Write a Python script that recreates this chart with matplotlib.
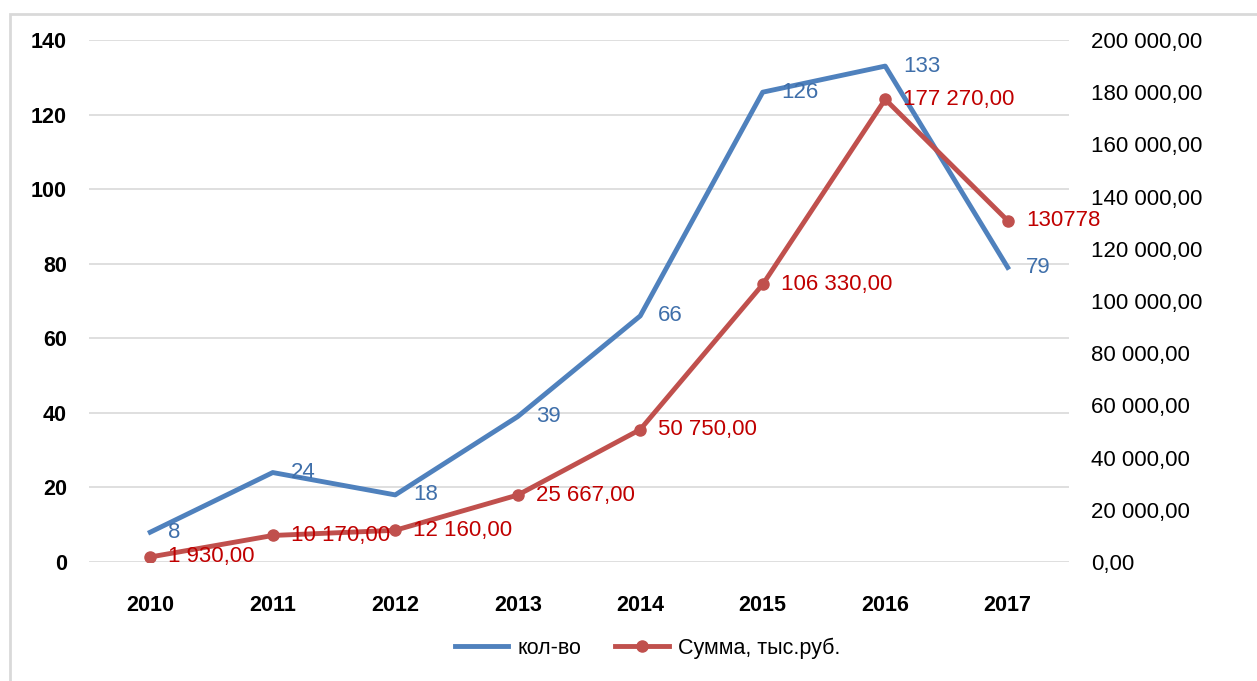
import matplotlib.pyplot as plt
from matplotlib.patches import Rectangle
from matplotlib.ticker import FuncFormatter, MultipleLocator

years = ['2010', '2011', '2012', '2013', '2014', '2015', '2016', '2017']
count = [8, 24, 18, 39, 66, 126, 133, 79]
summa = [1930, 10170, 12160, 25667, 50750, 106330, 177270, 130778]
summa_labels = ['1 930,00', '10 170,00', '12 160,00', '25 667,00', '50 750,00',
                '106 330,00', '177 270,00', '130778']

plt.rcParams['font.family'] = ['Liberation Sans', 'DejaVu Sans']

blue = '#4F81BD'
red = '#C0504D'

fig = plt.figure(figsize=(12.57, 6.81), dpi=100)
ax = fig.add_axes([0.0708, 0.1747, 0.7796, 0.7666])
ax2 = ax.twinx()

x = list(range(len(years)))

ax.plot(x, count, color=blue, lw=3.5, label='кол-во', zorder=3)
ax2.plot(x, summa, color=red, lw=3.5, marker='o', ms=8, label='Сумма, тыс.руб.', zorder=3)

# data labels
for i, v in enumerate(count):
    ax.annotate(str(v), (i, v), xytext=(13, 0), textcoords='offset points',
                ha='left', va='center', color='#3F6FAA', fontsize=16, zorder=5)
for i, v in enumerate(summa):
    ax2.annotate(summa_labels[i], (i, v), xytext=(13, 0), textcoords='offset points',
                 ha='left', va='center', color='#C00000', fontsize=16, zorder=5)

ax.set_xlim(-0.5, 7.5)
ax.set_ylim(0, 140)
ax2.set_ylim(0, 200000)
ax.yaxis.set_major_locator(MultipleLocator(20))
ax2.yaxis.set_major_locator(MultipleLocator(20000))
ax2.yaxis.set_major_formatter(FuncFormatter(
    lambda v, p: f'{v:,.2f}'.replace(',', ' ').replace('.', ',')))

ax.set_xticks(x)
ax.set_xticklabels(years, fontsize=15.5, fontweight='bold')
ax.tick_params(axis='x', length=0, pad=24)
ax.tick_params(axis='y', length=0, pad=16, labelsize=15.5)
for t in ax.get_yticklabels():
    t.set_fontweight('bold')
ax2.tick_params(axis='y', length=0, pad=16, labelsize=16)

ax.grid(axis='y', color='#D9D9D9', lw=1.2)
ax.set_axisbelow(True)
for a in (ax, ax2):
    for s in a.spines.values():
        s.set_visible(False)

h1, l1 = ax.get_legend_handles_labels()
h2, l2 = ax2.get_legend_handles_labels()
fig.legend(h1 + h2, l1 + l2, loc='center', bbox_to_anchor=(0.515, 0.048), ncol=2,
           frameon=False, fontsize=15.5, handlelength=2.5, handletextpad=0.4,
           columnspacing=1.6)

# outer frame
fig.patches.append(Rectangle((10 / 1257, -0.05), 1.1, 1 - 14 / 681 + 0.05,
                             transform=fig.transFigure, fill=False,
                             edgecolor='#D9D9D9', lw=2))

plt.savefig('out.png', dpi=100)
